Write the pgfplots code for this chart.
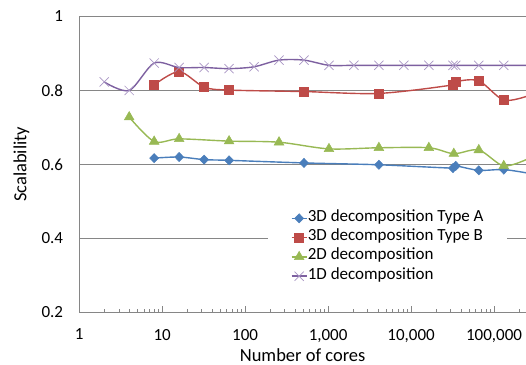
\documentclass[border=0pt]{standalone}
\usepackage{fontspec}
\setmainfont{Carlito}
\usepackage{pgfplots}
\pgfplotsset{compat=1.18}
\definecolor{cA}{HTML}{4A7EBB}
\definecolor{cB}{HTML}{BE4B48}
\definecolor{cC}{HTML}{98B954}
\definecolor{cD}{HTML}{7D60A0}
\definecolor{cDm}{HTML}{A996C4}
\definecolor{axgray}{HTML}{868686}
\begin{document}
\begin{tikzpicture}
\begin{axis}[
  scale only axis, width=447bp, height=296bp,
  xmode=log, xmin=1, xmax=243000, ymin=0.2, ymax=1,
  axis x line=bottom, axis y line=left,
  axis line style={-, draw=axgray, line width=0.8bp},
  xtick={1,10,100,1000,10000,100000},
  xticklabels={1,10,100,{1,000},{10,000},{100,000}},
  minor xtick={2,3,4,5,6,7,8,9,20,30,40,50,60,70,80,90,200,300,400,500,600,700,800,900,2000,3000,4000,5000,6000,7000,8000,9000,20000,30000,40000,50000,60000,70000,80000,90000,200000},
  ytick={0.2,0.4,0.6,0.8,1}, yticklabels={0.2,0.4,0.6,0.8,1},
  ymajorgrids, major grid style={draw=axgray, line width=0.8bp},
  tick align=inside, major tick length=6bp, minor tick length=3.5bp,
  every tick/.style={draw=axgray, line width=0.6bp},
  ticklabel style={font=\fontsize{17bp}{20bp}\selectfont, text=black},
  xticklabel style={anchor=north, inner sep=0pt, yshift=-16.5bp},
  yticklabel style={anchor=east, inner sep=0pt, xshift=-16bp},
  xlabel={Number of cores}, ylabel={Scalability},
  label style={font=\fontsize{18.5bp}{22bp}\selectfont},
  xlabel style={at={(axis description cs:0.5,-0.1665)}, anchor=base, inner sep=0pt},
  ylabel style={at={(axis description cs:-0.1186,0.5)}, anchor=base, inner sep=0pt, rotate=0},
  clip marker paths=true,
  legend style={
    at={(axis description cs:0.422,0.351)}, anchor=north west,
    draw=none, fill=white, inner xsep=23bp, inner ysep=0bp,
    font=\fontsize{17bp}{20bp}\selectfont,
    row sep=0bp,
    nodes={inner xsep=0.5bp, inner ysep=0bp, text height=12.5bp, text depth=6.8bp},
  },
  legend cell align=left,
  legend image code/.code={\draw[mark repeat=2,mark phase=2] plot coordinates {(0bp,0bp)(7.5bp,0bp)(15bp,0bp)};},
  every axis plot/.append style={smooth, tension=0.5, line width=1.4bp},
]
\addplot[color=cA, mark=diamond*, mark size=4.6bp, mark options={xscale=1.3, line width=0.5bp}] coordinates {
  (8,0.617) (16,0.620) (32,0.613) (64,0.611) (512,0.604) (4096,0.599)
  (32000,0.590) (34560,0.596) (65536,0.584) (131072,0.586) (262144,0.576)
};
\addplot[color=cB, mark=square*, mark size=4.5bp, mark options={line width=0.5bp}] coordinates {
  (8,0.815) (16,0.851) (32,0.809) (64,0.801) (512,0.797) (4096,0.792)
  (32000,0.815) (34560,0.824) (65536,0.826) (131072,0.774) (262144,0.786)
};
\addplot[color=cC, mark=triangle*, mark size=5.6bp, mark options={line width=0.5bp}] coordinates {
  (4,0.728) (8,0.662) (16,0.669) (64,0.663) (256,0.660) (1024,0.642)
  (4096,0.645) (16384,0.645) (32768,0.629) (65536,0.639) (131072,0.596) (262144,0.616)
};
\addplot[color=cD, mark=x, mark size=6.5bp, mark options={draw=cDm, line width=0.7bp}] coordinates {
  (2,0.823) (4,0.800) (8,0.874) (16,0.862) (32,0.862) (64,0.859) (128,0.864)
  (256,0.882) (512,0.882) (1024,0.868) (2048,0.868) (4096,0.868) (8192,0.868)
  (16384,0.868) (32000,0.868) (34560,0.868) (65536,0.868) (131072,0.868) (262144,0.868)
};
\legend{3D decomposition Type A,3D decomposition Type B,2D decomposition,1D decomposition}
\end{axis}
\pgfresetboundingbox
\path[use as bounding box] ([xshift=-79.3bp,yshift=-52.7bp]current axis.south west) rectangle ([yshift=16.5bp]current axis.north east);
\end{tikzpicture}
\end{document}
